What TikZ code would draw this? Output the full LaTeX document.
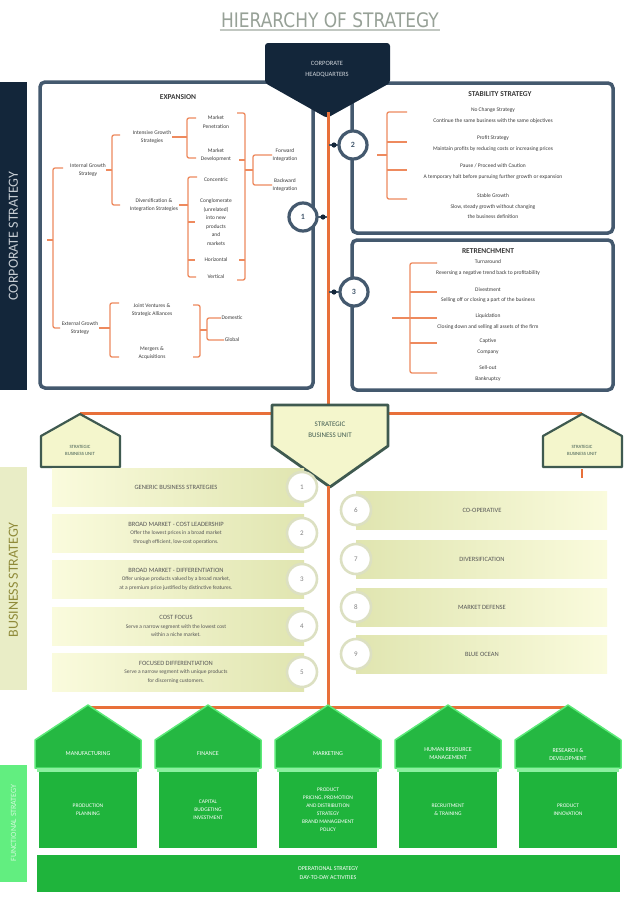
\documentclass[tikz,border=0pt]{standalone}
\usepackage{fontspec}
\setmainfont{Carlito}
\newfontfamily\titlefont[FakeStretch=0.85]{DejaVu Sans}
\usetikzlibrary{calc}
\definecolor{navy}{HTML}{13263A}
\definecolor{slate}{HTML}{44596E}
\definecolor{orng}{HTML}{E8703A}
\definecolor{brk}{HTML}{EE8A5E}
\definecolor{sbufill}{HTML}{F4F6CC}
\definecolor{sbuline}{HTML}{3F5A50}
\definecolor{bardark}{HTML}{E0E5B0}
\definecolor{barlight}{HTML}{FAFBDD}
\definecolor{ring}{HTML}{DCE0C2}
\definecolor{grn}{HTML}{1FB43C}
\definecolor{grnhead}{HTML}{25B842}
\definecolor{grnline}{HTML}{5BEA78}
\definecolor{grnband}{HTML}{62EE80}
\definecolor{bizband}{HTML}{E9EDC6}
\definecolor{txt}{HTML}{3A3A3A}
\definecolor{titlegray}{HTML}{97A197}
\tikzset{
  boxframe/.style={draw=slate, line width=3.5pt, rounded corners=5pt, fill=white},
  brkline/.style={draw=brk, line width=1.3pt, rounded corners=2pt},
  mainline/.style={draw=orng, line width=3pt},
  tf/.style={font=\fontsize{5.5}{8.5}\selectfont, text=txt, align=center, inner sep=0.5pt},
  ti/.style={font=\fontsize{5.5}{10.5}\selectfont, text=txt, align=center, inner sep=0.5pt, anchor=north},
  hd/.style={font=\bfseries\fontsize{7.5}{8}\selectfont, text=txt, inner sep=0pt},
  numring/.style={circle, draw=slate, line width=3.2pt, fill=white, minimum size=28pt, inner sep=0pt, font=\bfseries\fontsize{8}{8}\selectfont, text=slate},
  numc/.style={circle, draw=ring, line width=2.6pt, fill=white, minimum size=30pt, inner sep=0pt, font=\fontsize{7}{7}\selectfont, text=gray},
  bartext/.style={font=\fontsize{5.5}{8.5}\selectfont, text=txt!85, align=center, inner sep=0pt},
  hhead/.style={font=\fontsize{6}{8}\selectfont, text=white, align=center, inner sep=0pt},
  hbody/.style={font=\fontsize{5.5}{8}\selectfont, text=white, align=center, inner sep=0pt},
  sbuhouse/.style={fill=sbufill, draw=sbuline, line width=2.2pt, line join=round},
}
\newcommand{\leftbar}[4]{%
  \shade[left color=barlight, right color=bardark] (52,#1-19) rectangle (304,#1+19);
  \node[numc] (n#2) at (302,#1) {#2};
  \node[bartext] (#3) at (176,#1) {#4};
}
\newcommand{\rightbar}[4]{%
  \shade[left color=bardark, right color=barlight] (356,#1-19) rectangle (607,#1+19);
  \node[numc] (n#2) at (356,#1) {#2};
  \node[bartext] (#3) at (482,#1) {#4};
}
\newcommand{\fhouse}[4]{%
  \filldraw[fill=grnhead, draw=grnline, line width=1.5pt, line join=round]
    (#1,705) -- (#1+53,740) -- (#1+53,768) -- (#1-53,768) -- (#1-53,740) -- cycle;
  \fill[grnline!70] (#1-51,768) rectangle (#1+51,772);
  \fill[grn] (#1-49,772) rectangle (#1+49,848);
  \node[hhead] (#2h) at (#1,754) {#3};
  \node[hbody] (#2b) at (#1,810) {#4};
}
\begin{document}
\begin{tikzpicture}[x=1pt,y=-1pt]
\useasboundingbox (0,0) rectangle (632,898);
\fill[white] (0,0) rectangle (632,898);

% title
\node[font=\titlefont\fontsize{20}{20}\selectfont, text=titlegray] (title) at (330,20) {HIERARCHY OF STRATEGY};
\draw[titlegray!60, line width=1.3pt] (title.south west) ++(2,-1) -- ($(title.south east)+(-2,-1)$);

% corporate band
\fill[navy] (0,82) rectangle (27,390);
\node[rotate=90, font=\fontsize{14}{14}\selectfont, text=white!70!slate] (cs) at (13.5,236) {CORPORATE STRATEGY};

% boxes
\draw[boxframe] (40,82) rectangle (313,388);
\draw[boxframe] (352,83) rectangle (613,233);
\draw[boxframe] (352,240) rectangle (613,390);

% HQ pentagon
\fill[navy, rounded corners=3pt] (265,43) -- (390,43) -- (390,83) -- (327,118) -- (265,83) -- cycle;
\node[font=\fontsize{6.5}{11}\selectfont, text=white!75!slate, align=center] (hq) at (327,69) {CORPORATE\\HEADQUARTERS};
\coordinate (hqtip) at (328,112);

% SBU coordinates and main orange line
\coordinate (sbutop) at (328,406);
\coordinate (sbutip) at (328,486);
\coordinate (sbl) at (80,413);
\coordinate (sbr) at (582,413);
\coordinate (fbus) at (328,707);
\draw[mainline] (hqtip) -- (sbutop);
\draw[mainline] (sbl) -- (sbr);

% number circles
\draw[slate, line width=2pt] (305,217) -- (327,217);
\fill[navy] (323,217) circle (2.6);
\node[numring] (c1) at (303,217) {1};
\draw[slate, line width=2pt] (329,145) -- (353,145);
\fill[navy] (334,145) circle (2.6);
\node[numring] (c2) at (353,145) {2};
\draw[slate, line width=2pt] (329,292) -- (354,292);
\fill[navy] (334,292) circle (2.6);
\node[numring] (c3) at (354,292) {3};

% ---------- Box 1 : expansion tree
\node[hd] (t1) at (178,97) {EXPANSION};
\node[tf] (int) at (88,170) {Internal Growth\\Strategy};
\node[tf] (ext) at (80,328) {External Growth\\Strategy};
\draw[brkline] (63,168) -- (53,168) -- (53,328) -- (60,328);
\draw[brkline] (53,240) -- (47,240);

\node[tf] (inten) at (152,137) {Intensive Growth\\Strategies};
\node[tf] (diver) at (154,205) {Diversification \&\\Integration Strategies};
\draw[brkline] (120,135) -- (112,135) -- (112,205) -- (120,205);
\draw[brkline] (112,170) -- (int.east);

\node[tf] (mp) at (216,122) {Market\\Penetration};
\node[tf] (md) at (216,155) {Market\\Development};
\draw[brkline] (196,118) -- (187,118) -- (187,158) -- (196,158);
\draw[brkline] (187,137) -- (inten.east);

\node[tf] (conc) at (216,180) {Concentric};
\node[tf] (cong) at (216,222) {Conglomerate\\(unrelated)\\into new\\products\\and\\markets};
\node[tf] (hor) at (216,260) {Horizontal};
\node[tf] (ver) at (216,277) {Vertical};
\draw[brkline] (197,177) -- (188,177) -- (188,277) -- (196,277);
\draw[brkline] (188,222) -- (195,222);
\draw[brkline] (188,260) -- (195,260);
\draw[brkline] (188,205) -- (diver.east);

\draw[brkline] (237,113) -- (245,113) -- (245,280) -- (237,280);
\draw[brkline] (245,160) -- (239,160);
\draw[brkline] (245,260) -- (239,260);
\node[tf] (fwd) at (285,155) {Forward\\Integration};
\node[tf] (bwd) at (285,185) {Backward\\Integration};
\draw[brkline] (fwd.west) -- (253,155) -- (253,185) -- (bwd.west);
\draw[brkline] (245,170) -- (253,170);

\node[tf] (jv) at (152,310) {Joint Ventures \&\\Strategic Alliances};
\node[tf] (ma) at (152,353) {Mergers \&\\Acquisitions};
\draw[brkline] (119,303) -- (110,303) -- (110,357) -- (119,357);
\draw[brkline] (110,328) -- (ext.east);
\draw[brkline] (193,305) -- (200,305) -- (200,357) -- (193,357);
\node[tf] (dom) at (232,318) {Domestic};
\node[tf] (glo) at (232,340) {Global};
\draw[brkline] (dom.west) -- (207,318) -- (207,340) -- (glo.west);
\draw[brkline] (200,330) -- (207,330);

% ---------- Box 2 : stability
\node[hd] (t2) at (500,94) {STABILITY STRATEGY};
\draw[brkline] (407,112) -- (387,112) -- (387,199) -- (407,199);
\draw[brkline] (387,142) -- (407,142);
\draw[brkline] (387,170) -- (407,170);
\draw[brkline] (387,155) -- (377,155);
\node[ti] (s1) at (493,107) {No Change Strategy\\Continue the same business with the same objectives};
\node[ti] (s2) at (493,135) {Profit Strategy\\Maintain profits by reducing costs or increasing prices};
\node[ti] (s3) at (493,163) {Pause / Proceed with Caution\\A temporary halt before pursuing further growth or expansion};
\node[ti] (s4) at (493,193) {Stable Growth\\Slow, steady growth without changing\\the business definition};

% ---------- Box 3 : retrenchment
\node[hd] (t3) at (488,251) {RETRENCHMENT};
\draw[brkline] (437,263) -- (410,263) -- (410,373) -- (437,373);
\draw[brkline] (410,292) -- (437,292);
\draw[brkline] (392,318) -- (437,318);
\draw[brkline] (410,343) -- (437,343);
\node[ti] (r1) at (488,259) {Turnaround\\Reversing a negative trend back to profitability};
\node[ti] (r2) at (488,287) {Divestment\\Selling off or closing a part of the business};
\node[ti] (r3) at (488,313) {Liquidation\\Closing down and selling all assets of the firm};
\node[ti] (r4) at (488,338) {Captive\\Company};
\node[ti] (r5) at (488,365) {Sell-out\\Bankruptcy};

% ---------- SBU level
\filldraw[fill=sbufill, draw=sbuline, line width=2.8pt, line join=round]
  (272,405) -- (388,405) -- (388,446) -- (330,487) -- (272,446) -- cycle;
\node[font=\fontsize{7}{11}\selectfont, text=sbuline, align=center] (sbu) at (330,430) {STRATEGIC\\BUSINESS UNIT};

\filldraw[sbuhouse] (80,414) -- (120,436) -- (120,467) -- (41,467) -- (41,436) -- cycle;
\node[font=\fontsize{4.8}{7}\selectfont, text=sbuline, align=center] (sbu1) at (80,450) {STRATEGIC\\BUSINESS UNIT};
\filldraw[sbuhouse] (582,414) -- (622,436) -- (622,467) -- (543,467) -- (543,436) -- cycle;
\node[font=\fontsize{4.8}{7}\selectfont, text=sbuline, align=center] (sbu2) at (582,450) {STRATEGIC\\BUSINESS UNIT};
\coordinate (sbu1b) at (80,469);
\coordinate (sbu2b) at (582,469);
\draw[orng, line width=2.5pt] (sbu1b) -- ++(0,9);
\draw[orng, line width=2.5pt] (sbu2b) -- ++(0,9);

% business band
\fill[bizband] (0,467) rectangle (27,690);
\node[rotate=90, font=\fontsize{14}{14}\selectfont, text=olive!60!gray] (bs) at (13.5,580) {BUSINESS STRATEGY};

% main line SBU to functional
\draw[mainline] (sbutip) -- (fbus);

% left bars
\leftbar{487}{1}{b1}{\fontsize{6.5}{8.5}\selectfont GENERIC BUSINESS STRATEGIES}
\leftbar{533}{2}{b2}{{\fontsize{6.5}{8.5}\selectfont BROAD MARKET - COST LEADERSHIP}\\Offer the lowest prices in a broad market\\through efficient, low-cost operations.}
\leftbar{579}{3}{b3}{{\fontsize{6.5}{8.5}\selectfont BROAD MARKET - DIFFERENTIATION}\\Offer unique products valued by a broad market,\\at a premium price justified by distinctive features.}
\leftbar{626}{4}{b4}{{\fontsize{6.5}{8.5}\selectfont COST FOCUS}\\Serve a narrow segment with the lowest cost\\within a niche market.}
\leftbar{672}{5}{b5}{{\fontsize{6.5}{8.5}\selectfont FOCUSED DIFFERENTIATION}\\Serve a narrow segment with unique products\\for discerning customers.}

% right bars
\rightbar{510}{6}{b6}{\fontsize{6.5}{8.5}\selectfont CO-OPERATIVE}
\rightbar{559}{7}{b7}{\fontsize{6.5}{8.5}\selectfont DIVERSIFICATION}
\rightbar{607}{8}{b8}{\fontsize{6.5}{8.5}\selectfont MARKET DEFENSE}
\rightbar{654}{9}{b9}{\fontsize{6.5}{8.5}\selectfont BLUE OCEAN}

% functional level
\coordinate (h1a) at (88,707);
\coordinate (h5a) at (568,707);
\draw[mainline] (h1a) -- (h5a);
\fhouse{88}{h1}{MANUFACTURING}{PRODUCTION\\PLANNING}
\fhouse{208}{h2}{FINANCE}{CAPITAL\\BUDGETING\\INVESTMENT}
\fhouse{328}{h3}{MARKETING}{PRODUCT\\PRICING, PROMOTION\\AND DISTRIBUTION\\STRATEGY\\BRAND MANAGEMENT\\POLICY}
\fhouse{448}{h4}{HUMAN RESOURCE\\MANAGEMENT}{RECRUITMENT\\\& TRAINING}
\fhouse{568}{h5}{RESEARCH \&\\DEVELOPMENT}{PRODUCT\\INNOVATION}

\fill[grn] (37,855) rectangle (620,892);
\node[hbody, font=\fontsize{6}{9}\selectfont] (fs) at (328,873) {OPERATIONAL STRATEGY\\DAY-TO-DAY ACTIVITIES};

\fill[grnband] (0,765) rectangle (27,882);
\node[rotate=90, font=\fontsize{8}{8}\selectfont, text=white!70!grnband] (fsb) at (13.5,823) {FUNCTIONAL STRATEGY};
\end{tikzpicture}
\end{document}
